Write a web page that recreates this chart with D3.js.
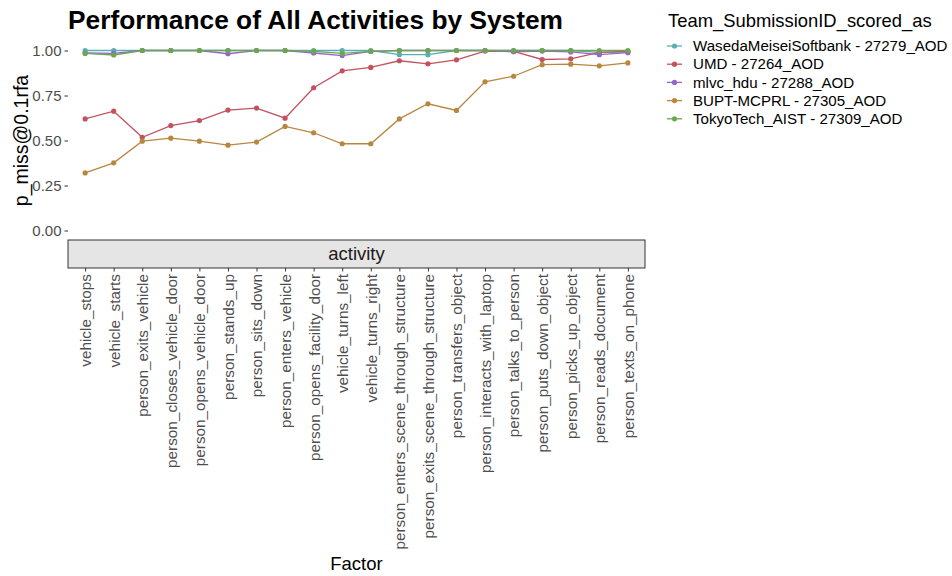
<!DOCTYPE html>
<html><head><meta charset="utf-8">
<script src="https://cdn.jsdelivr.net/npm/d3@7"></script>
<style>body{margin:0;background:#fff;} text{font-family:"Liberation Sans",Arial,sans-serif;}</style>
</head><body><svg id="c" width="952" height="576"></svg>
<script>
const categories = ["vehicle_stops","vehicle_starts","person_exits_vehicle","person_closes_vehicle_door","person_opens_vehicle_door","person_stands_up","person_sits_down","person_enters_vehicle","person_opens_facility_door","vehicle_turns_left","vehicle_turns_right","person_enters_scene_through_structure","person_exits_scene_through_structure","person_transfers_object","person_interacts_with_laptop","person_talks_to_person","person_puts_down_object","person_picks_up_object","person_reads_document","person_texts_on_phone"];
const seriesNames = ["WasedaMeiseiSoftbank - 27279_AOD","UMD - 27264_AOD","mlvc_hdu - 27288_AOD","BUPT-MCPRL - 27305_AOD","TokyoTech_AIST - 27309_AOD"];
const seriesColors = ["#5aafb5","#c2525e","#9466cc","#b8873f","#6ea64f"];
const waseda = [1.0,1.0,1.0,1.0,1.0,1.0,1.0,1.0,1.0,1.0,1.0,0.977,0.977,1.0,1.0,1.0,1.0,1.0,0.99,0.993];
const umd = [0.620,0.663,0.518,0.583,0.611,0.669,0.680,0.624,0.793,0.887,0.906,0.943,0.926,0.948,0.997,0.995,0.950,0.954,0.990,0.995];
const mlvc = [0.986,0.984,1.0,1.0,1.0,0.982,1.0,1.0,0.986,0.972,0.995,1.0,1.0,1.0,1.0,0.993,0.997,0.992,0.977,0.988];
const bupt = [0.320,0.376,0.496,0.513,0.496,0.474,0.491,0.578,0.543,0.482,0.482,0.620,0.704,0.667,0.826,0.857,0.921,0.924,0.915,0.931];
const tokyo = [0.984,0.975,1.0,1.0,1.0,1.0,1.0,1.0,0.995,0.984,0.995,1.0,1.0,1.0,1.0,1.0,1.0,1.0,1.0,1.0];
const yTicks = [0, 0.25, 0.5, 0.75, 1.0];
const seriesValues = [waseda, umd, mlvc, bupt, tokyo];

const svg = d3.select("#c");
const P = {l:68, r:645, t:41.5, b:239.5};
const x = d3.scalePoint().domain(categories).range([P.l, P.r]).padding(0.6);
const y = d3.scaleLinear().domain([-0.05, 1.05]).range([P.b, P.t]);

// title
svg.append("text").attr("x", 68).attr("y", 29).attr("font-size", 26.3).attr("font-weight", "bold").attr("fill", "#000").text("Performance of All Activities by System");

// y axis
const yAxis = svg.append("g").attr("transform", `translate(${P.l},0)`)
  .call(d3.axisLeft(y).tickValues(yTicks).tickFormat(d3.format(".2f")).tickSize(3.5).tickPadding(3));
yAxis.select(".domain").remove();
yAxis.selectAll(".tick line").attr("stroke", "#333");
yAxis.selectAll(".tick text").attr("fill", "#4d4d4d").attr("font-size", 15).attr("font-family", "Liberation Sans, Arial, sans-serif");

svg.append("text").attr("transform", `translate(28,${(P.t+P.b)/2}) rotate(-90)`).attr("text-anchor", "middle")
  .attr("font-size", 19.5).attr("fill", "#000").text("p_miss@0.1rfa");

// strip
const stripTop = 240, stripH = 28;
svg.append("rect").attr("x", P.l).attr("y", stripTop).attr("width", P.r - P.l).attr("height", stripH)
  .attr("fill", "#e5e5e5").attr("stroke", "#333").attr("stroke-width", 1);
svg.append("text").attr("x", (P.l+P.r)/2).attr("y", stripTop + stripH/2).attr("dy", "0.35em").attr("text-anchor", "middle")
  .attr("font-size", 18.5).attr("fill", "#1a1a1a").text("activity");

// x axis
const xAxis = svg.append("g").attr("transform", `translate(0,${stripTop + stripH})`)
  .call(d3.axisBottom(x).tickSize(3.5).tickPadding(0));
xAxis.select(".domain").remove();
xAxis.selectAll(".tick line").attr("stroke", "#333");
xAxis.selectAll(".tick text").attr("fill", "#4d4d4d").attr("font-size", 15.3)
  .attr("font-family", "Liberation Sans, Arial, sans-serif")
  .attr("transform", "rotate(-90)").attr("text-anchor", "end").attr("x", -6).attr("y", 0).attr("dy", "0.35em");

svg.append("text").attr("x", (P.l+P.r)/2).attr("y", 570).attr("text-anchor", "middle").attr("font-size", 18.5).attr("fill", "#000").text("Factor");

// lines & points
const line = d3.line().x((d,i) => x(categories[i])).y(d => y(d));
seriesValues.forEach((vals, s) => {
  const g = svg.append("g");
  g.append("path").datum(vals).attr("d", line).attr("fill", "none").attr("stroke", seriesColors[s]).attr("stroke-width", 1.3);
  g.selectAll("circle").data(vals).join("circle").attr("cx", (d,i) => x(categories[i])).attr("cy", d => y(d)).attr("r", 2.6).attr("fill", seriesColors[s]);
});

// legend
svg.append("text").attr("x", 668).attr("y", 27).attr("font-size", 18.4).attr("fill", "#000").text("Team_SubmissionID_scored_as");
seriesNames.forEach((n, i) => {
  const yy = 46 + i * 18.2;
  svg.append("line").attr("x1", 667).attr("x2", 682).attr("y1", yy).attr("y2", yy).attr("stroke", seriesColors[i]).attr("stroke-width", 1.3);
  svg.append("circle").attr("cx", 674.5).attr("cy", yy).attr("r", 2.6).attr("fill", seriesColors[i]);
  svg.append("text").attr("x", 693).attr("y", yy).attr("dy", "0.35em").attr("font-size", 15.1).attr("fill", "#000").text(n);
});
</script></body></html>
